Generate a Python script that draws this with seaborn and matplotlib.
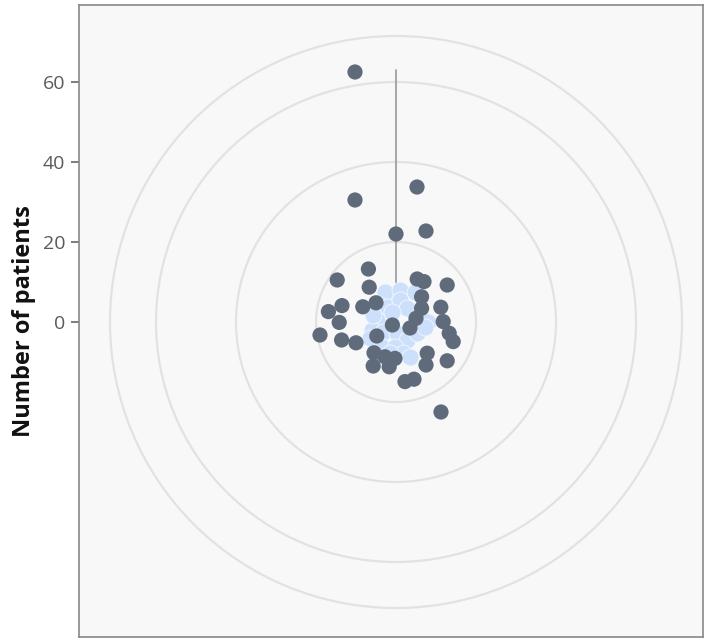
import matplotlib.pyplot as plt
import matplotlib.patches as mpatches
import pandas as pd
import seaborn as sns

sns.set_style("white")
plt.rcParams['font.family'] = ['Open Sans', 'DejaVu Sans']

# dark points (x, y in patient units, centre = 0)
dark_x = [-10.25, -10.25, 5.25, 7.5, 0, 11.25, -6.9, -14.7, -6.7, -13.5,
          -16.9, -8.3, -5, -14.2, -0.9, 5.3, 7, 12.8, 6.4, 6.4,
          5, 3.5, 11.2, 11.8, 13.3, 14.3, -19, -13.6, -10, -4.8,
          -5.5, -2.75, -0.25, -5.7, -1.7, 2.25, 4.5, 7.8, 7.5, 12.8]
dark_y = [62.5, 30.5, 33.75, 22.75, 22, -22.5, 13.25, 10.5, 8.7, 4.1,
          2.6, 3.8, 4.8, -0.1, -0.75, 10.75, 10.1, 9.25, 6.3, 3.4,
          0.9, -1.5, 3.7, 0.1, -2.8, -4.9, -3.25, -4.5, -5.2, -3.5,
          -7.7, -8.7, -9.1, -11, -11.2, -14.9, -14.3, -7.8, -10.75, -9.7]

# light points near the centre
light_x = [-2.75, 1, 4.75, -4, -2, 1, 2.75, -4.75, -6, -3.25, 0.25, 2.75,
           5.25, 8, 7.25, -6.5, -3.5, -0.25, 1.75, 3.5, -1.5, -1, -5.75]
light_y = [7.5, 8, 7.5, 4.25, 3.75, 5.5, 3.5, 0.5, -2, -2.5, -2.75, -4.5,
           -2.75, 0, -1.25, -4, -6.25, -6.25, -7.75, -8.75, -7.75, 2.5, 1.75]

rings = [20, 40, 60, 71.5]
max_value = 63
yticks = [0, 20, 40, 60]

dark = pd.DataFrame({"x": dark_x, "y": dark_y})
light = pd.DataFrame({"x": light_x, "y": light_y})

fig = plt.figure(figsize=(7.04, 6.4), dpi=100)
ax = fig.add_axes([79 / 704, 3 / 640, 624 / 704, 632 / 640])
ax.set_facecolor("#f8f8f8")

for r in rings:
    ax.add_patch(mpatches.Circle((0, 0), r, fill=False, ec="#e2e2e2", lw=1.6, zorder=1))

ax.plot([0, 0], [0, max_value], color="#a0a0a0", lw=1.3, zorder=2)

sns.scatterplot(data=light, x="x", y="y", color="#cde0fb", s=150, edgecolor="#f4f8ff",
                linewidth=0.6, ax=ax, zorder=3)
sns.scatterplot(data=dark, x="x", y="y", color="#5f6b7b", s=120, edgecolor="none",
                ax=ax, zorder=4)

ax.set_xlim(-79.25, 76.75)
ax.set_ylim(-78.75, 79.25)
ax.set_xticks([])
ax.set_yticks(yticks)
ax.tick_params(axis="y", length=6, width=1.2, color="#666666", labelcolor="#5a5a5a",
               labelsize=14, left=True, pad=4)
ax.set_xlabel("")
ax.set_ylabel("Number of patients", fontsize=17, fontweight="bold", color="#111111",
              labelpad=5)
for s in ax.spines.values():
    s.set_color("#888888")
    s.set_linewidth(1.2)

plt.savefig("out.png", dpi=100)
